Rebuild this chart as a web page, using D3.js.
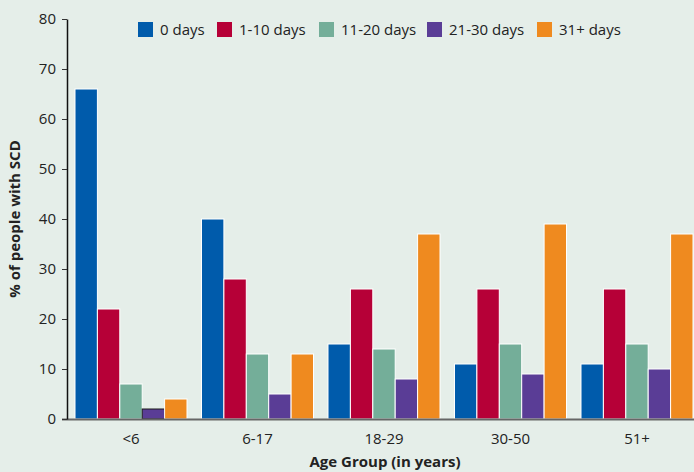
<!DOCTYPE html>
<html>
<head>
<meta charset="utf-8">
<script src="https://cdn.jsdelivr.net/npm/d3@7/dist/d3.min.js"></script>
<style>
  html, body { margin: 0; padding: 0; background: #e5eee9; }
  svg { display: block; font-family: "Open Sans", "Noto Sans", sans-serif; }
</style>
</head>
<body>
<svg id="chart" width="694" height="472"></svg>
<script>
// Age groups and the share of people with SCD in each group, by days of care
const ageGroups = ["<6", "6-17", "18-29", "30-50", "51+"];
const seriesNames = ["0 days", "1-10 days", "11-20 days", "21-30 days", "31+ days"];
const days0     = [66, 40, 15, 11, 11];
const days1to10 = [22, 28, 26, 26, 26];
const days11to20 = [7, 13, 14, 15, 15];
const days21to30 = [2, 5, 8, 9, 10];
const days31plus = [4, 13, 37, 39, 37];
const yTicks = [0, 10, 20, 30, 40, 50, 60, 70, 80];
const seriesColors = ["#005bab", "#b60037", "#74ae99", "#5a3d96", "#ef8a1f"];

const seriesValues = [days0, days1to10, days11to20, days21to30, days31plus];
const rows = ageGroups.map((g, i) => ({
  group: g,
  values: seriesNames.map((s, j) => ({ series: s, value: seriesValues[j][i] }))
}));

const svg = d3.select("#chart");
const width = 694, height = 472;
const axisX = 67;

const x0 = d3.scaleBand()
  .domain(ageGroups)
  .range([75, 693])
  .paddingInner(0.1146)
  .paddingOuter(0);

const x1 = d3.scaleBand()
  .domain(seriesNames)
  .range([0, x0.bandwidth()])
  .padding(0);

const y = d3.scaleLinear()
  .domain([0, 80])
  .range([419, 19]);

const color = d3.scaleOrdinal().domain(seriesNames).range(seriesColors);

// Bars
const groups = svg.append("g")
  .selectAll("g")
  .data(rows)
  .join("g")
  .attr("transform", d => `translate(${x0(d.group)},0)`);

groups.selectAll("rect")
  .data(d => d.values)
  .join("rect")
  .attr("x", d => x1(d.series))
  .attr("y", d => y(d.value))
  .attr("width", x1.bandwidth())
  .attr("height", d => y(0) - y(d.value))
  .attr("fill", d => color(d.series))
  .attr("stroke", d => d.value <= 2 ? "#1a1a1a" : "#ffffff")
  .attr("stroke-width", 1);

// X axis baseline
svg.append("line")
  .attr("x1", axisX - 5)
  .attr("x2", width)
  .attr("y1", y(0) + 0.5)
  .attr("y2", y(0) + 0.5)
  .attr("stroke", "#666")
  .attr("stroke-width", 2);

// X axis labels
const xAxis = svg.append("g")
  .attr("transform", `translate(0,${y(0)})`)
  .call(d3.axisBottom(x0).tickSize(0).tickPadding(14));
xAxis.select(".domain").remove();
xAxis.selectAll("text")
  .attr("font-size", 15)
  .attr("fill", "#222")
  .attr("font-family", "'Open Sans', sans-serif");

// Y axis
const yAxis = svg.append("g")
  .attr("transform", `translate(${axisX},0)`)
  .call(d3.axisLeft(y).tickValues(yTicks).tickSize(5).tickPadding(6).tickSizeOuter(0));
yAxis.select(".domain").attr("stroke", "#111").attr("stroke-width", 1.5);
yAxis.selectAll(".tick line").attr("stroke", "#333");
yAxis.selectAll("text")
  .attr("font-size", 15)
  .attr("fill", "#222")
  .attr("font-family", "'Open Sans', sans-serif");

// Axis titles
svg.append("text")
  .attr("x", 385)
  .attr("y", 467)
  .attr("text-anchor", "middle")
  .attr("font-size", 15)
  .attr("font-weight", "bold")
  .attr("fill", "#222")
  .text("Age Group (in years)");

svg.append("text")
  .attr("transform", `translate(20,${(y(0) + y(80)) / 2}) rotate(-90)`)
  .attr("text-anchor", "middle")
  .attr("font-size", 15)
  .attr("font-weight", "bold")
  .attr("fill", "#222")
  .text("% of people with SCD");

// Legend
const legendX = [138, 217, 319, 427, 537];
const legend = svg.append("g")
  .selectAll("g")
  .data(seriesNames)
  .join("g")
  .attr("transform", (d, i) => `translate(${legendX[i]},22)`);
legend.append("rect")
  .attr("width", 15)
  .attr("height", 15)
  .attr("fill", d => color(d));
legend.append("text")
  .attr("x", 22)
  .attr("y", 13)
  .attr("font-size", 15)
  .attr("fill", "#222")
  .text(d => d);
</script>
</body>
</html>
